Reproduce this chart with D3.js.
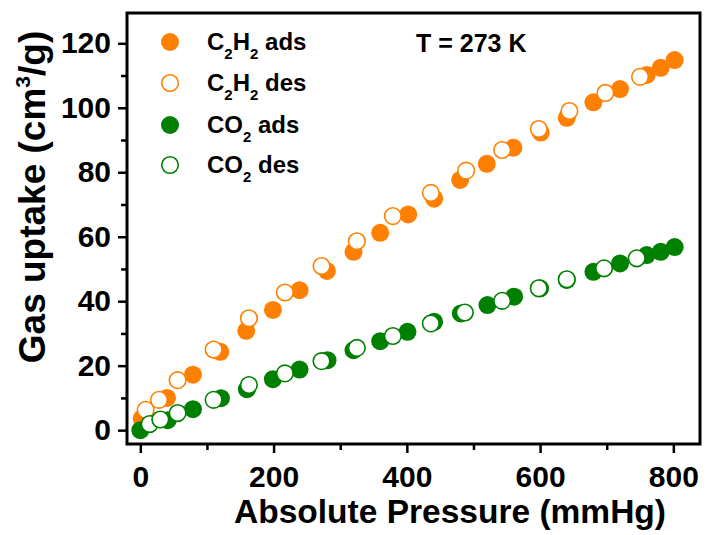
<!DOCTYPE html>
<html>
<head>
<meta charset="utf-8">
<script src="https://cdn.jsdelivr.net/npm/d3@7"></script>
<style>
  body { margin: 0; background: #fff; }
  text { font-family: "Liberation Sans", Arial, sans-serif; font-weight: bold; fill: #000; }
</style>
</head>
<body>
<div id="chart"></div>
<script>
// data (pressure in mmHg, uptake in cm3/g)
var c2h2AdsP = [2, 40, 79, 120, 159, 199, 239, 280, 320, 360, 402, 441, 480, 520, 560, 601, 640, 680, 720, 760, 781, 802];
var c2h2AdsV = [3.6, 10.0, 17.2, 24.3, 30.8, 37.3, 43.4, 49.4, 55.3, 61.2, 66.9, 71.8, 77.6, 82.6, 87.6, 92.3, 96.9, 101.7, 105.8, 110.2, 112.4, 114.8];
var c2h2DesP = [8, 28, 56, 110, 163, 217, 272, 325, 379, 436, 489, 543, 598, 644, 698, 750];
var c2h2DesV = [6.3, 9.4, 15.5, 25.0, 34.7, 42.7, 50.9, 58.6, 66.4, 73.6, 80.5, 86.9, 93.4, 99.0, 104.6, 109.6];
var co2AdsP = [0, 41, 79, 121, 160, 199, 239, 281, 320, 360, 401, 441, 481, 521, 561, 600, 640, 680, 720, 760, 781, 802];
var co2AdsV = [0, 3.1, 6.5, 9.9, 12.7, 15.8, 18.8, 21.7, 24.8, 27.6, 30.5, 33.6, 36.2, 38.8, 41.4, 44.0, 46.6, 49.1, 51.7, 54.3, 55.3, 56.8];
var co2DesP = [14, 30, 56, 110, 163, 217, 272, 325, 379, 436, 487, 543, 598, 640, 696, 745];
var co2DesV = [1.9, 3.3, 5.3, 9.4, 14.0, 17.6, 21.4, 25.5, 29.2, 33.1, 36.5, 40.1, 44.0, 46.8, 50.2, 53.3];

var xTicks = [0, 200, 400, 600, 800];
var xMinor = [100, 300, 500, 700];
var yTicks = [0, 20, 40, 60, 80, 100, 120];
var yMinor = [10, 30, 50, 70, 90, 110];

var orange = "#ff8000", green = "#008000";

var series = [
    { name: "C2H2", kind: "ads", p: c2h2AdsP, v: c2h2AdsV, color: orange, filled: true },
    { name: "C2H2", kind: "des", p: c2h2DesP, v: c2h2DesV, color: orange, filled: false },
    { name: "CO2", kind: "ads", p: co2AdsP, v: co2AdsV, color: green, filled: true },
    { name: "CO2", kind: "des", p: co2DesP, v: co2DesV, color: green, filled: false }
];

var width = 709, height = 535;
var mLeft = 127, mRight = 700, mTop = 13, mBottom = 444;

var svg = d3.select("#chart").append("svg")
    .attr("width", width)
    .attr("height", height);

var x = d3.scaleLinear().domain([-20, 840]).range([mLeft, mRight]);
var y = d3.scaleLinear().domain([-4.3, 129.4]).range([mBottom, mTop]);

// minor ticks
svg.append("g")
    .attr("transform", "translate(0," + mBottom + ")")
    .call(d3.axisBottom(x).tickValues(xMinor).tickSize(6).tickFormat(""))
    .call(function(g) { g.select(".domain").remove(); g.selectAll("line").attr("stroke-width", 2.5); });
svg.append("g")
    .attr("transform", "translate(" + mLeft + ",0)")
    .call(d3.axisLeft(y).tickValues(yMinor).tickSize(6).tickFormat(""))
    .call(function(g) { g.select(".domain").remove(); g.selectAll("line").attr("stroke-width", 2.5); });

// major ticks
svg.append("g")
    .attr("transform", "translate(0," + mBottom + ")")
    .call(d3.axisBottom(x).tickValues(xTicks).tickSize(9).tickPadding(13))
    .call(function(g) {
        g.select(".domain").remove();
        g.selectAll("line").attr("stroke-width", 2.5);
        g.selectAll("text").attr("font-size", 30).attr("font-family", null).attr("fill", null);
    });
svg.append("g")
    .attr("transform", "translate(" + mLeft + ",0)")
    .call(d3.axisLeft(y).tickValues(yTicks).tickSize(9).tickPadding(7))
    .call(function(g) {
        g.select(".domain").remove();
        g.selectAll("line").attr("stroke-width", 2.5);
        g.selectAll("text").attr("font-size", 30).attr("font-family", null).attr("fill", null);
    });

// frame
svg.append("rect")
    .attr("x", mLeft).attr("y", mTop)
    .attr("width", mRight - mLeft).attr("height", mBottom - mTop)
    .attr("fill", "none").attr("stroke", "#000").attr("stroke-width", 3);

// points
series.forEach(function(s) {
    var pts = s.p.map(function(p, i) { return [p, s.v[i]]; });
    svg.append("g").selectAll("circle")
        .data(pts)
        .enter().append("circle")
        .attr("cx", function(d) { return x(d[0]); })
        .attr("cy", function(d) { return y(d[1]); })
        .attr("r", s.filled ? 9 : 8.3)
        .attr("fill", s.filled ? s.color : "#fff")
        .attr("stroke", s.color)
        .attr("stroke-width", s.filled ? 0 : 1.6);
});

// legend
var legendY = [42, 83, 125, 165];
series.forEach(function(s, i) {
    var ly = legendY[i];
    svg.append("circle")
        .attr("cx", 170).attr("cy", ly)
        .attr("r", s.filled ? 9 : 8.3)
        .attr("fill", s.filled ? s.color : "#fff")
        .attr("stroke", s.color)
        .attr("stroke-width", s.filled ? 0 : 1.6);
    var t = svg.append("text").attr("x", 207).attr("y", ly + 8).attr("font-size", 24);
    if (s.name === "C2H2") {
        t.append("tspan").text("C");
        t.append("tspan").attr("font-size", 15).attr("dy", 9).text("2");
        t.append("tspan").attr("dy", -9).text("H");
        t.append("tspan").attr("font-size", 15).attr("dy", 9).text("2");
        t.append("tspan").attr("dy", -9).text(" " + s.kind);
    } else {
        t.append("tspan").text("CO");
        t.append("tspan").attr("font-size", 15).attr("dy", 9).text("2");
        t.append("tspan").attr("dy", -9).text(" " + s.kind);
    }
});

svg.append("text")
    .attr("x", 416).attr("y", 52)
    .attr("font-size", 25)
    .text("T = 273 K");

// axis titles
svg.append("text")
    .attr("x", 234).attr("y", 523)
    .attr("font-size", 33)
    .attr("textLength", 432)
    .attr("lengthAdjust", "spacingAndGlyphs")
    .text("Absolute Pressure (mmHg)");

var yt = svg.append("text")
    .attr("transform", "translate(45,197) rotate(-90)")
    .attr("text-anchor", "middle")
    .attr("font-size", 37);
yt.append("tspan").text("Gas uptake (cm");
yt.append("tspan").attr("font-size", 21).attr("dy", -15).text("3");
yt.append("tspan").attr("dy", 15).text("/g)");
</script>
</body>
</html>
